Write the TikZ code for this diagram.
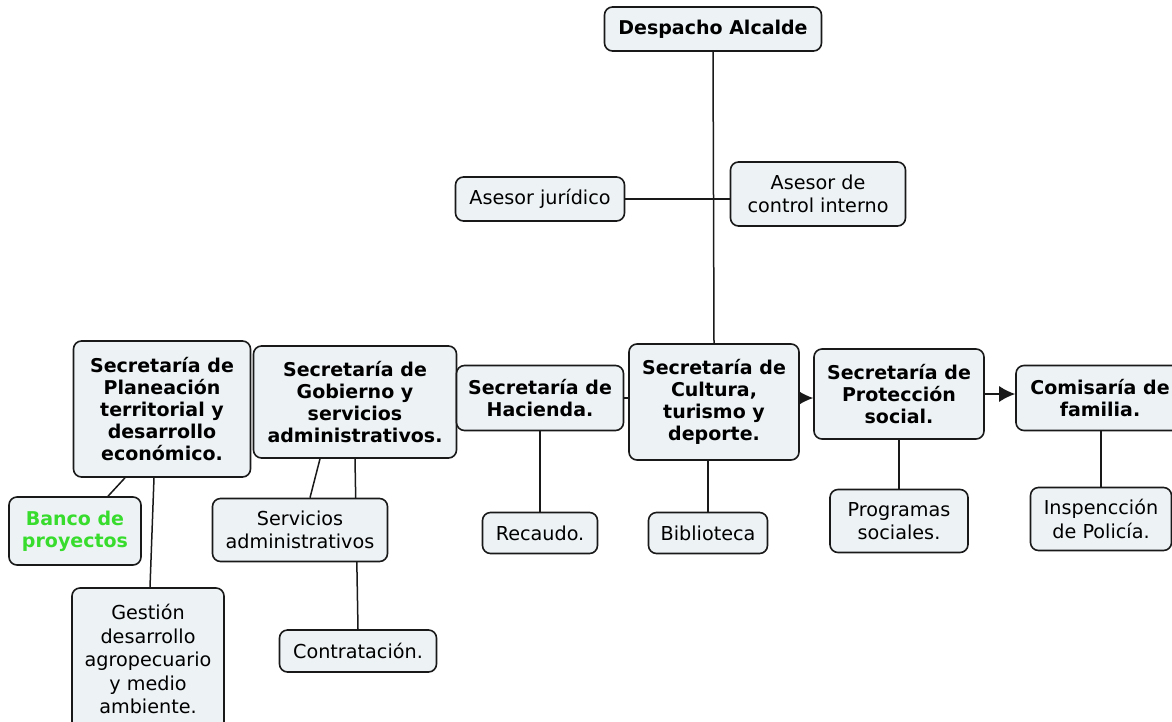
\documentclass[tikz,border=0pt]{standalone}
\usepackage{fontspec}
\setmainfont{DejaVu Sans}
\usetikzlibrary{arrows.meta,positioning,backgrounds}
\definecolor{cajita}{RGB}{237,242,245}
\definecolor{borde}{RGB}{25,25,25}
\definecolor{verde}{RGB}{55,220,45}
\tikzset{
  basic/.style    = {draw=borde, line width=1.6pt, fill=cajita, rounded corners=8pt,
                     align=center, inner sep=2pt},
  jefe/.style     = {basic, font=\fontsize{19}{22}\selectfont\bfseries},
  oficina/.style  = {basic, font=\fontsize{19.2}{23.5}\selectfont},
  conector/.style = {draw=borde, line width=1.5pt}
}

\begin{document}
\begin{tikzpicture}[x=1pt, y=-1pt,
  >={Latex[length=16pt,width=16pt]}]
\useasboundingbox (0,0) rectangle (1172,721);
\clip (0,0) rectangle (1172,721);

% despacho y asesores
\node[jefe, minimum width=217pt, minimum height=44pt] (desp) at (713,29) {Despacho Alcalde};
\node[oficina, minimum width=169pt, minimum height=44pt] (jur) at (540,199) {Asesor jurídico};
\node[oficina, minimum width=175pt, minimum height=64pt] (ctrl) at (818,194) {Asesor de\\control interno};

% secretarias
\node[jefe, minimum width=177pt, minimum height=136pt] (plan) at (162,409)
  {Secretaría de\\Planeación\\territorial y\\desarrollo\\económico.};
\node[jefe, minimum width=203pt, minimum height=112pt] (gob) at (355,402)
  {Secretaría de\\Gobierno y\\servicios\\administrativos.};
\node[jefe, minimum width=167pt, minimum height=65pt] (hac) at (540,398) {Secretaría de\\Hacienda.};
\node[jefe, minimum width=170pt, minimum height=116pt] (cult) at (714,402)
  {Secretaría de\\Cultura,\\turismo y\\deporte.};
\node[jefe, minimum width=170pt, minimum height=90pt] (prot) at (899,394)
  {Secretaría de\\Protección\\social.};
\node[jefe, minimum width=168pt, minimum height=65pt] (com) at (1100,398) {Comisaría de\\familia.};

% oficinas de abajo
\node[jefe, text=verde, minimum width=132pt, minimum height=68pt] (banco) at (75,531) {Banco de\\proyectos};
\node[oficina, minimum width=152pt, minimum height=142pt] (gest) at (148,659)
  {Gestión\\desarrollo\\agropecuario\\y medio\\ambiente.};
\node[oficina, minimum width=175pt, minimum height=63pt] (serv) at (300,530) {Servicios\\administrativos};
\node[oficina, minimum width=157pt, minimum height=42pt] (contr) at (358,651) {Contratación.};
\node[oficina, minimum width=115pt, minimum height=41pt] (rec) at (540,533) {Recaudo.};
\node[oficina, minimum width=119pt, minimum height=41pt] (bib) at (708,533) {Biblioteca};
\node[oficina, minimum width=138pt, minimum height=63pt] (prog) at (899,521) {Programas\\sociales.};
\node[oficina, minimum width=141pt, minimum height=63pt] (insp) at (1101,519) {Inspencción\\de Policía.};

% conectores
\begin{scope}[on background layer]
\draw[conector] (desp.south) -- (cult.north);
\draw[conector] (jur.east) -- (jur.east -| ctrl.west);
\draw[conector] (hac.east) -- (hac.east -| cult.west);
\draw[conector,->] ([yshift=-4pt]prot.west -| cult.east) -- ([yshift=-4pt]prot.west);
\draw[conector,->] (prot.east) -- (prot.east -| com.west);
\draw[conector] ([xshift=-37pt]plan.south) -- ([xshift=33pt]banco.north);
\draw[conector] ([xshift=-8pt]plan.south) -- ([xshift=2pt]gest.north);
\draw[conector] ([xshift=-35pt]gob.south) -- ([xshift=10pt]serv.north);
\draw[conector] (gob.south) -- (contr.north);
\draw[conector] (hac.south) -- (rec.north);
\draw[conector] (bib.north |- cult.south) -- (bib.north);
\foreach \de/\a in {prot/prog,com/insp}
  \draw[conector] (\a.north |- \de.south) -- (\a.north);
\end{scope}
\end{tikzpicture}
\end{document}
